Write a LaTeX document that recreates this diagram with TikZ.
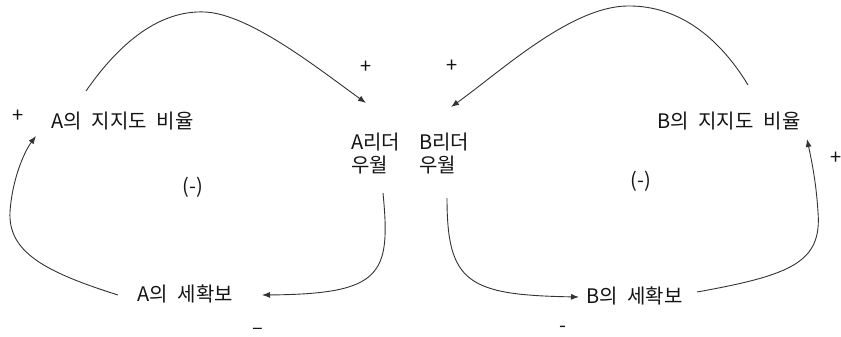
\documentclass[tikz,border=0pt]{standalone}
\usepackage{fontspec}
\setmainfont{Noto Sans CJK KR}[WordSpace=2.2]
\usetikzlibrary{arrows.meta}
\begin{document}
\begin{tikzpicture}[x=1pt,y=-1pt,
  lbl/.style={inner sep=0pt,font=\fontsize{20}{23}\selectfont,text=black!92},
  sgn/.style={inner sep=0pt,font=\fontsize{20}{20}\selectfont,text=black!92},
  link/.style={draw=black!80,line width=0.9pt,-{Latex[length=8pt,width=6pt]}}]
\useasboundingbox (0,0) rectangle (841,337);
% labels
\node[lbl,anchor=west] (asup) at (51,121) {A의 지지도 비율};
\node[lbl,anchor=west,align=left] (alead) at (351,154) {A리더\\우월};
\node[lbl,anchor=west,align=left] (blead) at (419,154) {B리더\\우월};
\node[lbl,anchor=west] (bsup) at (657,121) {B의 지지도 비율};
\node[lbl,anchor=west] (asec) at (137,294) {A의 세확보};
\node[lbl,anchor=west] (bsec) at (586,296) {B의 세확보};
\node[lbl] (aloop) at (193,187) {(-)};
\node[lbl] (bloop) at (641,181) {(-)};
% signs
\node[sgn] (s1) at (366,67) {+};
\node[sgn] (s2) at (18,116) {+};
\node[sgn] (s3) at (452,66) {+};
\node[sgn] (s4) at (836,158) {+};
\node[sgn] (s5) at (258,331) {–};
\node[sgn] (s6) at (563,329) {-};
% connector ends
\coordinate (a1) at (86,91);
\coordinate (a2) at (366,103);
\coordinate (a3) at (383,193);
\coordinate (a4) at (262,295);
\coordinate (a5) at (118,295);
\coordinate (a6) at (36,136);
\coordinate (b1) at (748,85);
\coordinate (b2) at (451,107);
\coordinate (b3) at (447,198);
\coordinate (b4) at (579,297);
\coordinate (b5) at (697,292);
\coordinate (b6) at (807,139);
% connectors
\draw[link] (a1) .. controls (120,42) and (160,10) .. (205,12) .. controls (250,14) and (320,70) .. (a2);
\draw[link] (a3) .. controls (391,275) and (382,294) .. (a4);
\draw[link] (a5) .. controls (45,272) and (8,252) .. (10,212) .. controls (12,180) and (24,152) .. (a6);
\draw[link] (b1) .. controls (722,42) and (682,5) .. (627,6) .. controls (570,7) and (500,72) .. (b2);
\draw[link] (b3) .. controls (447,283) and (468,295) .. (b4);
\draw[link] (b5) .. controls (792,275) and (822,262) .. (818,212) .. controls (816,180) and (811,158) .. (b6);
\end{tikzpicture}
\end{document}
